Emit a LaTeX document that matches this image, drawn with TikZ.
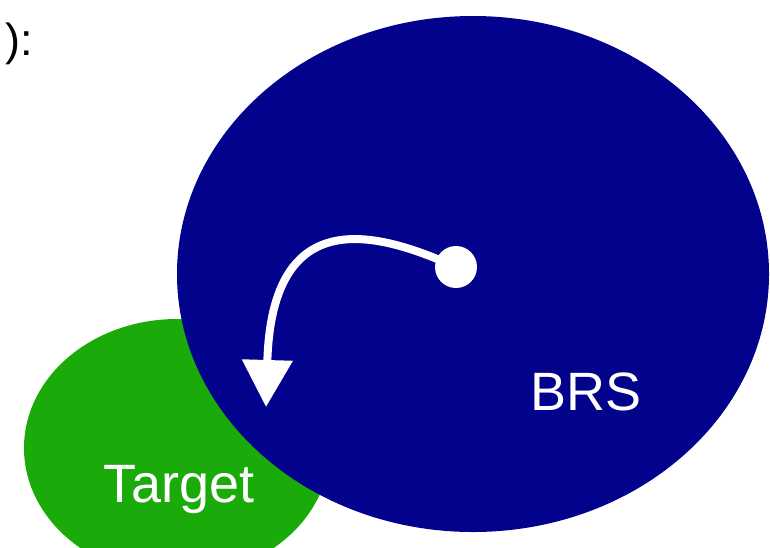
\documentclass[tikz,border=0pt]{standalone}
\usepackage{fontspec}
\setmainfont{Liberation Sans}
\usetikzlibrary{shapes.geometric,arrows.meta}
\definecolor{brsblue}{RGB}{2,2,140}
\definecolor{targetgreen}{RGB}{26,170,10}
\begin{document}
\begin{tikzpicture}[x=1pt,y=-1pt,
  region/.style={ellipse,draw=none,inner sep=0pt,outer sep=0pt},
  regionlabel/.style={text=white,font=\fontsize{54}{54}\selectfont,anchor=base,inner sep=0pt},
  flow/.style={white,line width=8pt,-{Triangle[width=49pt,length=47pt]}}
]
\useasboundingbox (0,0) rectangle (770,547);
\clip (0,0) rectangle (770,547);
% fragment of the preceding text line
\node[anchor=base west,inner sep=0pt,font=\fontsize{45}{45}\selectfont] (frag) at (5,55.5) {):};
% target set and backward reachable set
\node[region,fill=targetgreen,minimum width=306pt,minimum height=258pt] (target) at (177,448) {};
\node[region,fill=brsblue,minimum width=592pt,minimum height=516pt] (brs) at (473,274) {};
\node[regionlabel] (targetlabel) at (179,502) {Target};
\node[regionlabel] (brslabel) at (586,410) {BRS};
% state moving toward the target
\node[circle,fill=white,minimum size=42pt,inner sep=0pt] (dot) at (456,267) {};
\coordinate (tip) at (266,407);
\draw[flow] (dot.center) .. controls (380,233) and (272,200) .. (tip);
\end{tikzpicture}
\end{document}
